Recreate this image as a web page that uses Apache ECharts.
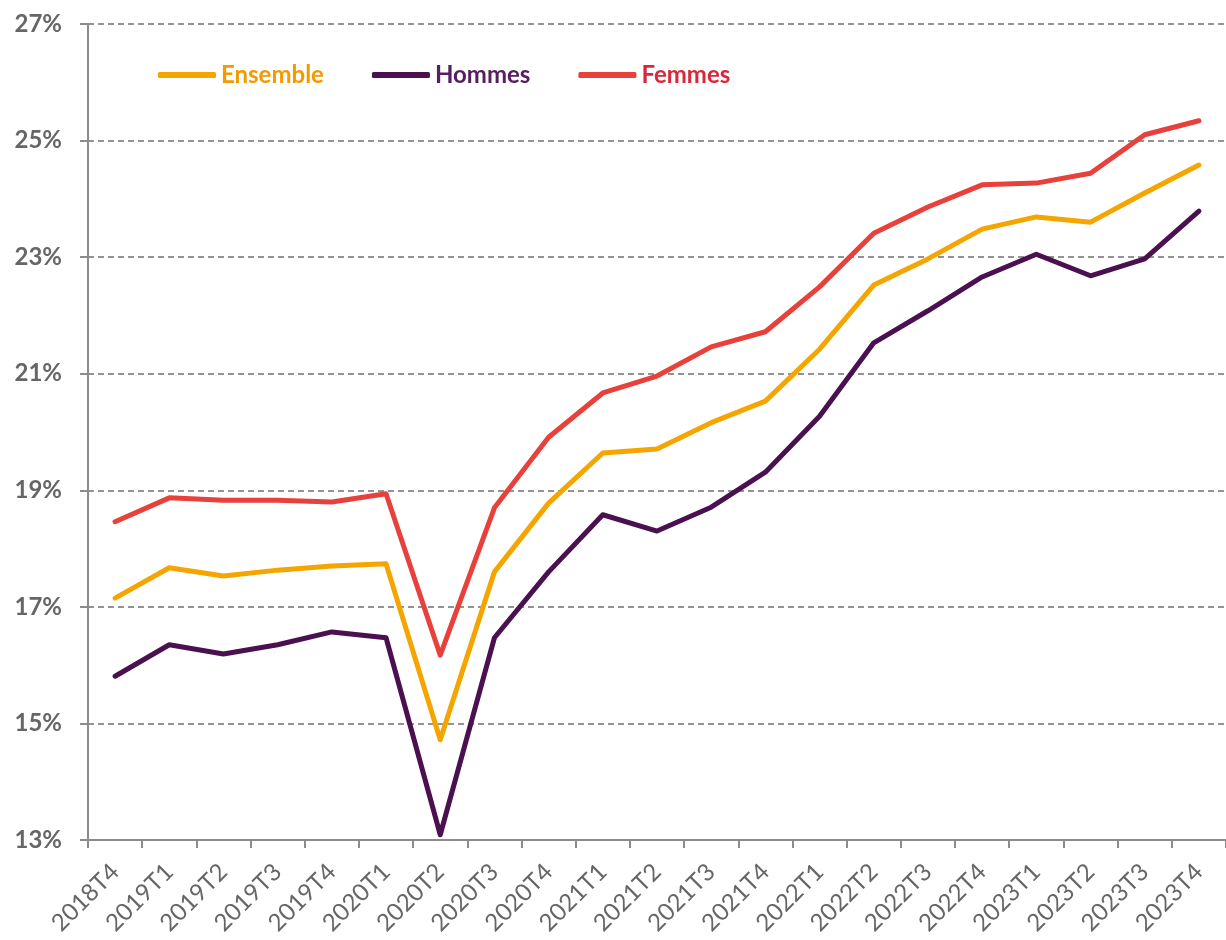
<!DOCTYPE html>
<html>
<head>
<meta charset="utf-8">
<script src="https://cdn.jsdelivr.net/npm/echarts@6/dist/echarts.min.js"></script>
<style>
  html, body { margin: 0; padding: 0; background: #fff; }
  #chart { width: 1226px; height: 940px; }
</style>
</head>
<body>
<div id="chart"></div>
<script>
// trimestres
const quarters = [
  '2018T4', '2019T1', '2019T2', '2019T3', '2019T4', '2020T1', '2020T2',
  '2020T3', '2020T4', '2021T1', '2021T2', '2021T3', '2021T4', '2022T1',
  '2022T2', '2022T3', '2022T4', '2023T1', '2023T2', '2023T3', '2023T4'
]

// valeurs en %
const ensemble = [17.15, 17.67, 17.53, 17.63, 17.70, 17.74, 14.72, 17.60, 18.78, 19.64, 19.71,
  20.16, 20.53, 21.42, 22.52, 22.97, 23.48, 23.69, 23.60, 24.10, 24.58]
const hommes = [15.81, 16.35, 16.19, 16.35, 16.57, 16.47, 13.09, 16.47, 17.60, 18.58, 18.30,
  18.71, 19.31, 20.27, 21.53, 22.08, 22.66, 23.05, 22.68, 22.97, 23.79]
const femmes = [18.46, 18.87, 18.83, 18.83, 18.80, 18.94, 16.17, 18.70, 19.91, 20.67, 20.96,
  21.46, 21.72, 22.49, 23.41, 23.86, 24.24, 24.27, 24.44, 25.10, 25.34]

const font = 'Lato, "Open Sans", sans-serif'

function lineSeries(name, data, color) {
  return {
    name: name,
    type: 'line',
    data: data,
    symbol: 'none',
    lineStyle: { color: color, width: 5, cap: 'round', join: 'round' },
    itemStyle: { color: color },
    z: 3
  }
}

const chart = echarts.init(document.getElementById('chart'))

chart.setOption({
  animation: false,
  textStyle: { fontFamily: font },
  grid: { left: 88, right: 0, top: 24, bottom: 100, containLabel: false },
  legend: {
    left: 153,
    top: 58,
    itemWidth: 58,
    itemHeight: 6,
    itemGap: 48,
    icon: 'roundRect',
    textStyle: {
      fontFamily: font,
      fontSize: 24,
      fontWeight: 'bold'
    },
    data: [
      { name: 'Ensemble', textStyle: { color: '#F39A00' } },
      { name: 'Hommes', textStyle: { color: '#56205E' } },
      { name: 'Femmes', textStyle: { color: '#D8283A' } }
    ]
  },
  xAxis: {
    type: 'category',
    data: quarters,
    boundaryGap: true,
    axisLine: { lineStyle: { color: '#8c8c8c', width: 2 } },
    axisTick: { show: true, length: 8, lineStyle: { color: '#8c8c8c', width: 2 } },
    axisLabel: {
      rotate: 45,
      interval: 0,
      color: '#666',
      fontSize: 24,
      margin: 28,
      fontFamily: font
    },
    splitLine: { show: false }
  },
  yAxis: {
    type: 'value',
    min: 13,
    max: 27,
    interval: 2,
    axisLine: { show: true, lineStyle: { color: '#8c8c8c', width: 2 } },
    axisTick: { show: true, length: 8, lineStyle: { color: '#8c8c8c', width: 2 } },
    axisLabel: {
      formatter: v => v + '%',
      color: '#666',
      fontSize: 24,
      fontWeight: 'bold',
      margin: 26,
      fontFamily: font
    },
    splitLine: { lineStyle: { color: '#707070', type: [6, 4], width: 1.5 } }
  },
  series: [
    lineSeries('Ensemble', ensemble, '#F5A500'),
    lineSeries('Hommes', hommes, '#4A1050'),
    lineSeries('Femmes', femmes, '#E8413C')
  ]
})
</script>
</body>
</html>
